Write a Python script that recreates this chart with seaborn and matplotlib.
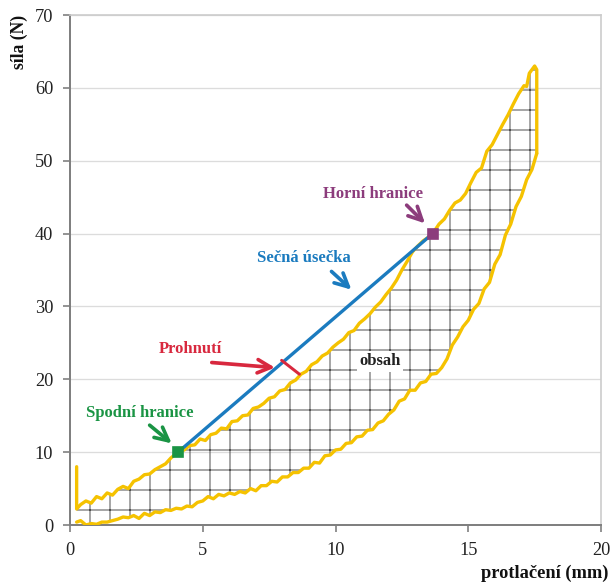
import numpy as np
import matplotlib
matplotlib.use("Agg")
import matplotlib.pyplot as plt
import seaborn as sns

# loading curve (upper)
load_x = [0.25, 0.25, 0.4, 0.6, 0.8, 1.0, 1.2, 1.4, 1.6, 1.8, 2.0, 2.2, 2.4, 2.6, 2.8,
          3.0, 3.2, 3.4, 3.6, 3.8, 4.07, 4.3, 4.5, 4.7, 4.9, 5.1, 5.3, 5.5, 5.7, 5.9,
          6.1, 6.3, 6.5, 6.7, 6.9, 7.1, 7.3, 7.5, 7.7, 7.9, 8.1, 8.3, 8.5, 8.7, 8.9,
          9.1, 9.3, 9.5, 9.7, 9.9, 10.1, 10.3, 10.5, 10.7, 10.9, 11.1, 11.3, 11.5, 11.7,
          11.9, 12.1, 12.3, 12.5, 12.7, 12.9, 13.1, 13.3, 13.5, 13.66, 13.9, 14.1, 14.3,
          14.5, 14.7, 14.9, 15.1, 15.3, 15.5, 15.7, 15.9, 16.1, 16.3, 16.5, 16.7, 16.9,
          17.1, 17.2, 17.3, 17.5, 17.58, 17.58]
load_y = [8.0, 2.2, 2.8, 3.3, 3.0, 3.9, 3.6, 4.4, 4.1, 4.9, 5.3, 5.0, 6.0, 6.3, 6.9,
          7.0, 7.6, 8.0, 8.4, 9.2, 10.0, 10.3, 10.9, 11.0, 11.8, 11.6, 12.4, 12.6, 13.3, 13.2,
          14.2, 14.3, 15.0, 15.1, 16.0, 16.2, 16.7, 17.4, 17.6, 18.4, 18.6, 19.5, 19.9, 20.7, 21.1,
          22.0, 22.4, 23.2, 23.6, 24.4, 25.0, 25.5, 26.4, 26.7, 27.7, 28.3, 29.0, 29.9, 30.6,
          31.6, 32.5, 33.6, 35.0, 36.2, 37.5, 38.3, 39.0, 39.5, 40.0, 41.3, 42.0, 43.2,
          44.2, 44.6, 45.5, 47.0, 48.4, 49.0, 51.3, 52.2, 53.6, 55.0, 56.3, 57.8, 59.2,
          60.3, 60.2, 62.0, 63.0, 62.5, 51.0]

# unloading curve (lower)
unload_x = [17.58, 17.4, 17.2, 17.0, 16.8, 16.6, 16.4, 16.2, 16.0, 15.8, 15.6, 15.4, 15.2,
            15.0, 14.8, 14.6, 14.4, 14.2, 14.0, 13.8, 13.6, 13.4, 13.2, 13.0, 12.8, 12.6,
            12.4, 12.2, 12.0, 11.8, 11.6, 11.4, 11.2, 11.0, 10.8, 10.6, 10.4, 10.2, 10.0,
            9.8, 9.6, 9.4, 9.2, 9.0, 8.8, 8.6, 8.4, 8.2, 8.0, 7.8, 7.6, 7.4, 7.2, 7.0,
            6.8, 6.6, 6.4, 6.2, 6.0, 5.8, 5.6, 5.4, 5.2, 5.0, 4.8, 4.6, 4.4, 4.2, 4.0,
            3.8, 3.6, 3.4, 3.2, 3.0, 2.8, 2.6, 2.4, 2.2, 2.0, 1.8, 1.6, 1.4, 1.2, 1.0,
            0.8, 0.6, 0.4, 0.25]
unload_y = [51.0, 48.8, 47.4, 45.1, 43.7, 41.3, 39.8, 37.1, 35.8, 33.3, 32.4, 30.4, 29.6,
            28.1, 27.2, 25.8, 24.7, 22.8, 21.6, 20.8, 20.7, 19.7, 19.5, 18.5, 18.5, 17.3,
            17.0, 15.8, 15.2, 14.3, 14.0, 13.1, 13.0, 12.2, 12.1, 11.3, 11.2, 10.4, 10.3,
            9.6, 9.5, 8.5, 8.6, 7.8, 7.8, 7.2, 7.2, 6.6, 6.6, 5.9, 6.0, 5.4, 5.4, 4.7,
            5.0, 4.4, 4.6, 4.2, 4.4, 4.0, 4.2, 3.6, 3.9, 3.3, 3.1, 2.5, 2.6, 2.2, 2.3,
            2.0, 2.1, 1.7, 1.8, 1.3, 1.6, 0.9, 1.3, 1.0, 1.1, 0.8, 0.6, 0.4, 0.4, 0.1,
            0.2, 0.0, 0.6, 0.4]

# secant between lower and upper bound
lower_pt = (4.07, 10.0)
upper_pt = (13.66, 40.0)
sag_x = [7.97, 8.64]
sag_y = [22.6, 20.7]

x_ticks = [0, 5, 10, 15, 20]
y_ticks = [0, 10, 20, 30, 40, 50, 60, 70]

yellow = "#f5c200"
blue = "#1b7bbf"
green = "#1a9444"
purple = "#8c3c7c"
red = "#d8283e"

sns.set_theme(style="white")
plt.rcParams["font.family"] = ["Liberation Serif", "DejaVu Serif"]
plt.rcParams["hatch.linewidth"] = 0.6

fig = plt.figure(figsize=(5.1, 586 / 120), dpi=120)
ax = fig.add_axes([70 / 612, 1 - 525 / 586, 531 / 612, 510 / 586])

# hatched area between the curves
poly_x = load_x[1:] + unload_x[1:]
poly_y = load_y[1:] + unload_y[1:]
ax.fill(poly_x, poly_y, facecolor="none", edgecolor="#505050", hatch="+", lw=0, zorder=1)

sns.lineplot(x=load_x, y=load_y, sort=False, estimator=None, color=yellow, lw=2.0, ax=ax, zorder=3)
sns.lineplot(x=unload_x, y=unload_y, sort=False, estimator=None, color=yellow, lw=2.0, ax=ax, zorder=3)

ax.plot([lower_pt[0], upper_pt[0]], [lower_pt[1], upper_pt[1]], color=blue, lw=2.0, zorder=4)
ax.plot(*lower_pt, marker="s", ms=6.5, color=green, zorder=5)
ax.plot(*upper_pt, marker="s", ms=6.5, color=purple, zorder=5)
ax.plot(sag_x, sag_y, color=red, lw=1.8, zorder=5)

arrow = dict(arrowstyle="->", lw=2.2, mutation_scale=20, shrinkA=0, shrinkB=0)
ax.annotate("", xy=(3.83, 11.2), xytext=(3.0, 13.7), arrowprops=dict(arrow, color=green))
ax.annotate("", xy=(13.37, 41.4), xytext=(12.68, 43.9), arrowprops=dict(arrow, color=purple))
ax.annotate("", xy=(10.6, 32.3), xytext=(9.85, 34.8), arrowprops=dict(arrow, color=blue))
ax.annotate("", xy=(7.72, 21.6), xytext=(5.34, 22.3), arrowprops=dict(arrow, color=red))

tkw = dict(fontsize=10, fontweight="bold", ha="center", va="center")
ax.text(2.64, 15.4, "Spodní hranice", color=green, **tkw)
ax.text(11.4, 45.5, "Horní hranice", color=purple, **tkw)
ax.text(8.81, 36.6, "Sečná úsečka", color=blue, **tkw)
ax.text(4.52, 24.2, "Prohnutí", color=red, **tkw)
ax.text(11.68, 22.5, "obsah", color="#222222", zorder=6,
        bbox=dict(facecolor="white", edgecolor="none", pad=1.5), **tkw)

ax.set_xlim(0, 20)
ax.set_ylim(0, 70)
ax.set_xticks(x_ticks)
ax.set_yticks(y_ticks)
ax.tick_params(axis="both", labelsize=11, colors="#222222", length=4, width=1,
               direction="out", left=True, bottom=True, pad=6)
ax.tick_params(axis="both", color="#808080")
ax.grid(axis="y", color="#dcdcdc", lw=0.8)
ax.set_axisbelow(True)
for side in ["left", "bottom"]:
    ax.spines[side].set_color("#808080")
    ax.spines[side].set_linewidth(1.2)
for side in ["top", "right"]:
    ax.spines[side].set_color("#cccccc")
    ax.spines[side].set_linewidth(1.0)

ax.set_ylabel("síla (N)", fontsize=10.5, fontweight="bold", loc="top", color="#111111")
ax.yaxis.set_label_coords(-0.079, 1.0)
ax.set_xlabel("protlačení (mm)", fontsize=11, fontweight="bold", loc="right", color="#111111")
ax.xaxis.set_label_coords(1.013, -0.078)

fig.savefig("out.png", dpi=120)
